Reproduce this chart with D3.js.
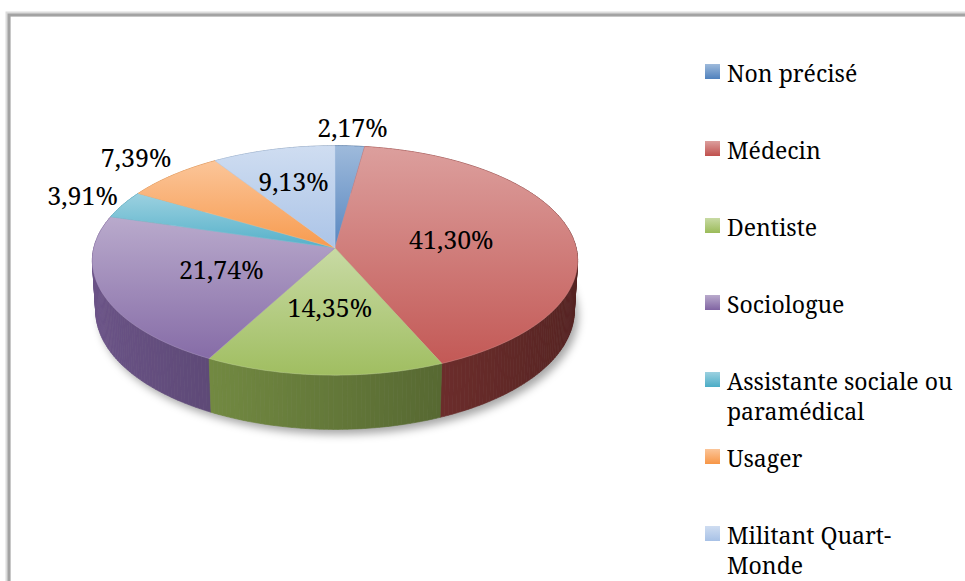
<!DOCTYPE html>
<html>
<head>
<meta charset="utf-8">
<script src="https://cdn.jsdelivr.net/npm/d3@7"></script>
<style>
  body { margin: 0; background: #fff; }
  svg { display: block; }
</style>
</head>
<body>
<div id="chart"></div>
<script>
var categories = ['Non précisé', 'Médecin', 'Dentiste', 'Sociologue',
  'Assistante sociale ou paramédical', 'Usager', 'Militant Quart-Monde'];
var values = [2.17, 41.30, 14.35, 21.74, 3.91, 7.39, 9.13];
var colors = ['#4F81BD', '#C0504D', '#9BBB59', '#8064A2', '#4BACC6', '#F79646', '#A7C1E6'];

// label distance from centre (1 = rim), outside for the small slices
var labelRadius = [1.2, 0.49, 0.5, 0.5, 1.2, 1.25, 0.65];

var width = 965, height = 581;
var cx = 335, cy = 248;
var fontFamily = '"Noto Serif", "Liberation Serif", serif';
// perspective: focal, camera distance, tilt, thickness
var f = 1965, D = 8.147, sinA = 0.47, cosA = Math.sqrt(1 - sinA * sinA), depth = 0.239;

function project(theta, r, up) {
  var x = r * Math.sin(theta), z = -r * Math.cos(theta);
  var yDown = z * sinA - up * cosA;
  var d = D - (z * cosA + up * sinA);
  return [cx + f * x / d, cy + f * yDown / d];
}

var fmt = d3.formatLocale({ decimal: ',', thousands: ' ', grouping: [3], currency: ['', '€'] }).format('.2f');

var data = categories.map(function (c, i) {
  return { name: c, value: values[i], color: colors[i], lr: labelRadius[i], i: i };
});

var pie = d3.pie().sort(null).value(function (d) { return d.value; });
var arcs = pie(data);

var svg = d3.select('#chart').append('svg')
  .attr('width', width)
  .attr('height', height)
  .attr('font-family', fontFamily);

var defs = svg.append('defs');
defs.append('filter').attr('id', 'blur')
  .attr('x', '-20%').attr('y', '-20%').attr('width', '140%').attr('height', '140%')
  .append('feGaussianBlur').attr('stdDeviation', 4);

arcs.forEach(function (a, i) {
  var g = defs.append('linearGradient').attr('id', 'top' + i)
    .attr('x1', 0).attr('y1', 0).attr('x2', 0).attr('y2', 1);
  g.append('stop').attr('offset', 0).attr('stop-color', d3.interpolateRgb(a.data.color, '#fff')(0.45));
  g.append('stop').attr('offset', 1).attr('stop-color', d3.interpolateRgb(a.data.color, '#fff')(0.05));
});

// frame
svg.append('path')
  .attr('d', 'M8,' + (height + 5) + 'V14H' + (width + 5))
  .attr('fill', 'none').attr('stroke', '#dcdcdc').attr('stroke-width', 5);
svg.append('path')
  .attr('d', 'M9,' + (height + 5) + 'V15H' + (width + 5))
  .attr('fill', 'none').attr('stroke', '#a3a3a3').attr('stroke-width', 3);

var line = d3.line();
var step = Math.PI / 360;

// shadow
var rim = d3.range(0, 2 * Math.PI + step, step * 2).map(function (t) { return project(t, 1, -depth); });
svg.append('path')
  .attr('d', line(rim) + 'Z')
  .attr('transform', 'translate(4,5)')
  .attr('fill', 'rgba(0,0,0,0.35)')
  .attr('filter', 'url(#blur)');

// side walls, split into thin bands and drawn back to front
var bands = [];
arcs.forEach(function (a) {
  var n = Math.max(1, Math.ceil((a.endAngle - a.startAngle) / (step * 2)));
  for (var k = 0; k < n; k++) {
    var t0 = a.startAngle + (a.endAngle - a.startAngle) * k / n;
    var t1 = a.startAngle + (a.endAngle - a.startAngle) * (k + 1) / n;
    var tm = (t0 + t1) / 2;
    var shade = 0.36 + 0.2 * Math.sin(tm);
    bands.push({
      z: -Math.cos(tm),
      pts: [project(t0, 1, 0), project(t1, 1, 0), project(t1, 1, -depth), project(t0, 1, -depth)],
      color: d3.interpolateRgb(a.data.color, '#000')(shade)
    });
  }
});
bands.sort(function (a, b) { return a.z - b.z; });

svg.append('g').selectAll('path')
  .data(bands)
  .join('path')
  .attr('d', function (d) { return line(d.pts) + 'Z'; })
  .attr('fill', function (d) { return d.color; })
  .attr('stroke', function (d) { return d.color; })
  .attr('stroke-width', 0.6);

// top faces
svg.append('g').selectAll('path')
  .data(arcs)
  .join('path')
  .attr('d', function (a) {
    var pts = [project(0, 0, 0)];
    var n = Math.max(2, Math.ceil((a.endAngle - a.startAngle) / step));
    for (var k = 0; k <= n; k++) {
      pts.push(project(a.startAngle + (a.endAngle - a.startAngle) * k / n, 1, 0));
    }
    return line(pts) + 'Z';
  })
  .attr('fill', function (a, i) { return 'url(#top' + i + ')'; })
  .attr('stroke', function (a) { return d3.interpolateRgb(a.data.color, '#fff')(0.3); })
  .attr('stroke-width', 0.5);

// data labels
svg.append('g').selectAll('text')
  .data(arcs)
  .join('text')
  .attr('font-family', fontFamily)
  .attr('text-anchor', 'middle')
  .attr('font-size', 25)
  .attr('fill', '#000')
  .attr('dy', '0.35em')
  .attr('x', function (a) { return project((a.startAngle + a.endAngle) / 2, a.data.lr, 0)[0]; })
  .attr('y', function (a) { return project((a.startAngle + a.endAngle) / 2, a.data.lr, 0)[1]; })
  .text(function (a) { return fmt(a.data.value) + '%'; });

// legend
var legendX = 705, legendY = 64, legendStep = 77, maxWidth = 236;
var legend = svg.append('g');
data.forEach(function (d, i) {
  var y = legendY + i * legendStep;
  var g = defs.append('linearGradient').attr('id', 'leg' + i)
    .attr('x1', 0).attr('y1', 0).attr('x2', 0).attr('y2', 1);
  g.append('stop').attr('offset', 0).attr('stop-color', d3.interpolateRgb(d.color, '#fff')(0.45));
  g.append('stop').attr('offset', 1).attr('stop-color', d.color);
  legend.append('rect')
    .attr('x', legendX).attr('y', y)
    .attr('width', 15).attr('height', 15)
    .attr('fill', 'url(#leg' + i + ')');
  var text = legend.append('text')
    .attr('font-family', fontFamily)
    .attr('fill', '#000')
    .attr('x', legendX + 22).attr('y', y + 18)
    .attr('font-size', 23);
  // greedy wrap on spaces and hyphens
  var words = d.name.match(/[^\s-]+-?/g);
  var cur = '';
  var tspan = text.append('tspan').attr('x', legendX + 22).attr('dy', 0);
  words.forEach(function (w) {
    var sep = (cur === '' || /-$/.test(cur)) ? '' : ' ';
    tspan.text(cur + sep + w);
    if (cur !== '' && tspan.node().getComputedTextLength() > maxWidth) {
      tspan.text(cur);
      cur = w;
      tspan = text.append('tspan').attr('x', legendX + 22).attr('dy', 30).text(w);
    } else {
      cur = cur + sep + w;
    }
  });
});
</script>
</body>
</html>
